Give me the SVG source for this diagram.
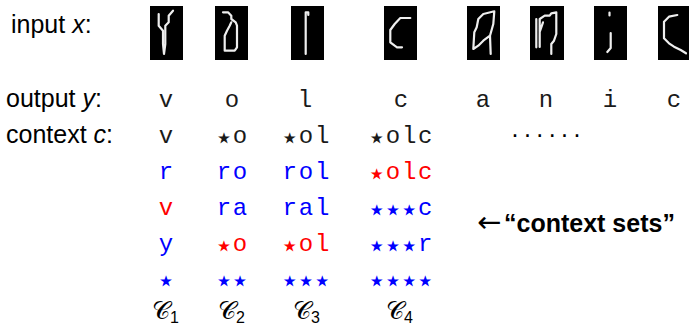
<svg xmlns="http://www.w3.org/2000/svg" width="689" height="327" viewBox="0 0 689 327">
<style>
.bg{fill:#fff}
.img{fill:#000}
.stk{fill:none;stroke:#eee;stroke-width:2.2;stroke-linejoin:round;stroke-linecap:round}
.lbl{font-family:"Liberation Sans",Arial,sans-serif;font-size:25px;fill:#000}
.mono{font-family:"Liberation Mono","DejaVu Sans Mono",monospace;font-size:24px;text-anchor:middle}
.st{font-family:"DejaVu Sans",sans-serif;font-size:31px}
.k{fill:#1a1a1a}
.b{fill:#0000ff}
.r{fill:#ff0000}
.cal{font-family:"DejaVu Serif","DejaVu Sans","Noto Sans",serif;font-size:25px;fill:#000}
.sub{font-family:"Liberation Sans",Arial,sans-serif;font-size:16px}
</style>
<rect class="bg" x="0" y="0" width="689" height="327"/>

<g id="labels">
  <text class="lbl" x="11" y="33">input <tspan font-style="italic">x</tspan>:</text>
  <text class="lbl" x="6" y="107">output <tspan font-style="italic">y</tspan>:</text>
  <text class="lbl" x="6" y="143">context <tspan font-style="italic">c</tspan>:</text>
</g>

<g id="inputs">
  <g id="img1"><rect class="img" x="150" y="6" width="33" height="54"/>
    <path class="stk" d="M158.7,14 L158.7,25.7 L163,30.7 L163,44 L164,54 M173,10.7 L168.7,15.7 L168.7,22.3 L165.3,25.7 L165.3,44 L164,54"/></g>
  <g id="img2"><rect class="img" x="215" y="6" width="33" height="54"/>
    <path class="stk" d="M223,12.3 L228,12.3 L231.3,15.7 L231.3,19 L235.7,22.3 L237,25.7 L237,47.3 L234.7,50.7 L224.7,50.7 L224.7,35.7 L227,30.7 L229.7,25.7 L231.3,22.3"/></g>
  <g id="img3"><rect class="img" x="291" y="6" width="33" height="54"/>
    <path class="stk" d="M305.7,54 L305.7,12.3 L308.3,12.3 L308.3,15"/></g>
  <g id="img4"><rect class="img" x="384" y="6" width="33" height="54"/>
    <path class="stk" d="M410.3,18 L400.3,18 L394.7,24 L390.3,30 L390.3,42.3 L394.7,45.7 L397,47.3 L402,47.3"/></g>
  <g id="img5"><rect class="img" x="467" y="6" width="33" height="54"/>
    <path class="stk" d="M494.3,11.3 L483.3,14 L478.3,19 L476.7,27.3 L474.3,32.3 L473.3,49 L478.3,45.7 L483.3,40.7 L490,35.7 L493.3,24 L494.3,11.3 M490,35.7 L490.7,54"/></g>
  <g id="img6"><rect class="img" x="530" y="6" width="34" height="54"/>
    <path class="stk" d="M536.3,19 L536.3,47.3 M539.7,47 L539.7,19 L544.7,15.7 L549.7,15.7 L551.3,13.3 L556.3,12.3 L556.3,34 L554,40.7 L551.3,44 L551.3,54 M539.7,32 L541.3,27.3 L543,22.3"/></g>
  <g id="img7"><rect class="img" x="594" y="6" width="33" height="54"/>
    <path class="stk" d="M609.5,12.5 L609.5,15.5 M610.7,33 L610.7,48 L607.3,52"/></g>
  <g id="img8"><rect class="img" x="658" y="6" width="33" height="54"/>
    <path class="stk" d="M677.3,15 L669,16.7 L664,21.7 L664,38.3 L669,43.3 L674,46.7 L680.7,50 L686,53.3"/></g>
</g>

<g id="output-row">
  <text class="mono k" x="166 232 305 401 483 546 610 674" y="107">volcanic</text>
</g>

<g id="context-row">
  <text class="mono k" x="166" y="143">v</text>
  <text class="mono k" x="224 240" y="143"><tspan class="st" dy="5">⋆</tspan><tspan dy="-5">o</tspan></text>
  <text class="mono k" x="289.8 306 322.2" y="143"><tspan class="st" dy="5">⋆</tspan><tspan dy="-5">ol</tspan></text>
  <text class="mono k" x="376.7 392.9 409.1 425.3" y="143"><tspan class="st" dy="5">⋆</tspan><tspan dy="-5">olc</tspan></text>
  <text class="lbl" font-size="20" text-anchor="middle" x="515 527.4 539.8 552.2 564.6 577" y="137">......</text>
</g>

<g id="set-C1">
  <text class="mono b" x="166" y="179">r</text>
  <text class="mono r" x="166" y="215">v</text>
  <text class="mono b" x="166" y="251">y</text>
  <text class="mono b" x="166" y="291"><tspan class="st">⋆</tspan></text>
  <text class="cal" x="152" y="319">𝒞<tspan class="sub" dy="4">1</tspan></text>
</g>
<g id="set-C2">
  <text class="mono b" x="224 240" y="179">ro</text>
  <text class="mono b" x="224 240" y="215">ra</text>
  <text class="mono r" x="224 240" y="251"><tspan class="st" dy="5">⋆</tspan><tspan dy="-5">o</tspan></text>
  <text class="mono b" x="224 240" y="291"><tspan class="st">⋆⋆</tspan></text>
  <text class="cal" x="218" y="319">𝒞<tspan class="sub" dy="4">2</tspan></text>
</g>
<g id="set-C3">
  <text class="mono b" x="289.8 306 322.2" y="179">rol</text>
  <text class="mono b" x="289.8 306 322.2" y="215">ral</text>
  <text class="mono r" x="289.8 306 322.2" y="251"><tspan class="st" dy="5">⋆</tspan><tspan dy="-5">ol</tspan></text>
  <text class="mono b" x="289.8 306 322.2" y="291"><tspan class="st">⋆⋆⋆</tspan></text>
  <text class="cal" x="293" y="319">𝒞<tspan class="sub" dy="4">3</tspan></text>
</g>
<g id="set-C4">
  <text class="mono r" x="376.7 392.9 409.1 425.3" y="179"><tspan class="st" dy="5">⋆</tspan><tspan dy="-5">olc</tspan></text>
  <text class="mono b" x="376.7 392.9 409.1 425.3" y="215"><tspan class="st" dy="5">⋆⋆⋆</tspan><tspan dy="-5">c</tspan></text>
  <text class="mono b" x="376.7 392.9 409.1 425.3" y="251"><tspan class="st" dy="5">⋆⋆⋆</tspan><tspan dy="-5">r</tspan></text>
  <text class="mono b" x="376.7 392.9 409.1 425.3" y="291"><tspan class="st">⋆⋆⋆⋆</tspan></text>
  <text class="cal" x="386" y="319">𝒞<tspan class="sub" dy="4">4</tspan></text>
</g>

<g id="note">
  <text x="477" y="232" font-family="DejaVu Sans,sans-serif" font-size="29" fill="#000">←</text>
  <text class="lbl" x="504" y="232" font-weight="bold">“context sets”</text>
</g>
</svg>
